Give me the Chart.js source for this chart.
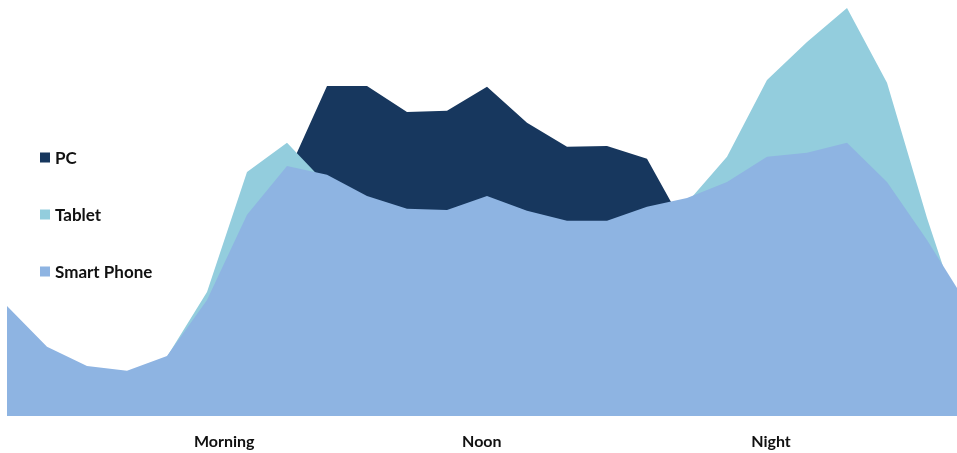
<!DOCTYPE html>
<html>
<head>
<meta charset="utf-8">
<title>Device usage through the day</title>
<script src="https://cdn.jsdelivr.net/npm/chart.js@4.4.1/dist/chart.umd.min.js"></script>
<style>
  html, body { margin: 0; padding: 0; background: #ffffff; }
  #wrap { width: 957px; height: 453px; position: relative; }
</style>
</head>
<body>
<div id="wrap"><canvas id="usage" width="957" height="453"></canvas></div>
<script>
// Hour of the day (0 = midnight); the last point wraps round to the next midnight
const hours = [0, 1, 2, 3, 4, 5, 6, 7, 8, 9, 10, 11, 12, 13, 14, 15, 16, 17, 18, 19, 20, 21, 22, 23, 24];

// Share of usage per device, by hour
const smartPhone = [27.5, 17.3, 12.5, 11.3, 15.0, 29.0, 50.3, 62.5, 60.3, 55.0, 51.8, 51.5, 55.0, 51.3, 48.8, 48.8, 52.3, 54.5, 58.5, 64.8, 65.8, 68.3, 58.5, 44.0, 28.0];
const tablet     = [26.0, 16.0, 11.0, 10.0, 14.8, 31.0, 61.0, 68.3, 57.8, 51.0, 47.5, 47.0, 50.0, 47.0, 44.5, 44.5, 48.0, 53.3, 64.8, 84.0, 93.5, 102.0, 83.3, 49.5, 19.3];
const pc         = [20.0, 10.0, 6.0, 5.0, 8.0, 18.0, 40.0, 60.3, 82.5, 82.5, 76.0, 76.3, 82.3, 73.3, 67.3, 67.5, 64.3, 46.3, 40.0, 42.0, 44.0, 45.0, 40.0, 30.0, 20.0];

// Period names on the time axis and the hour each one sits at
const periodLabels = ['Morning', 'Noon', 'Night'];
const periodHours  = [5.43, 11.87, 19.1];

const seriesNames = ['PC', 'Tablet', 'Smart Phone'];
const seriesColors = ['#17375E', '#93CDDD', '#8EB4E2'];

const toPoints = arr => arr.map((v, i) => ({ x: hours[i], y: v }));

// Legend stacked down the left side of the plot
const sideLegend = {
  id: 'sideLegend',
  afterDraw(chart) {
    const ctx = chart.ctx;
    ctx.save();
    ctx.font = 'bold 17px Lato';
    ctx.textBaseline = 'middle';
    ctx.textAlign = 'left';
    chart.data.datasets.forEach((ds, k) => {
      const cy = 157.5 + k * 57;
      ctx.fillStyle = ds.backgroundColor;
      ctx.fillRect(40, cy - 5, 10, 10);
      ctx.fillStyle = '#111111';
      ctx.fillText(ds.label, 55, cy + 1);
    });
    ctx.restore();
  }
};

new Chart(document.getElementById('usage'), {
  type: 'line',
  data: {
    datasets: [
      { label: seriesNames[0], data: toPoints(pc),         backgroundColor: seriesColors[0], order: 3 },
      { label: seriesNames[1], data: toPoints(tablet),     backgroundColor: seriesColors[1], order: 2 },
      { label: seriesNames[2], data: toPoints(smartPhone), backgroundColor: seriesColors[2], order: 1 }
    ].map(ds => Object.assign(ds, {
      fill: 'origin',
      borderWidth: 0,
      borderColor: 'rgba(0,0,0,0)',
      pointRadius: 0,
      pointHoverRadius: 0,
      tension: 0
    }))
  },
  options: {
    responsive: false,
    animation: false,
    devicePixelRatio: 1,
    layout: { padding: { left: 7, right: 0, top: 0, bottom: 0 } },
    plugins: {
      legend: { display: false },
      tooltip: { enabled: false }
    },
    scales: {
      x: {
        type: 'linear',
        min: 0,
        max: 23.75,
        grid: { display: false, drawTicks: false },
        border: { display: false },
        afterBuildTicks(scale) {
          scale.ticks = periodHours.map(h => ({ value: h }));
        },
        afterFit(scale) { scale.height = 37; },
        ticks: {
          autoSkip: false,
          maxRotation: 0,
          padding: 16,
          color: '#111111',
          font: { family: 'Lato', size: 16, weight: 'bold' },
          callback: (value, index) => periodLabels[index]
        }
      },
      y: {
        display: false,
        min: 0,
        max: 104
      }
    }
  },
  plugins: [sideLegend]
});
</script>
</body>
</html>
